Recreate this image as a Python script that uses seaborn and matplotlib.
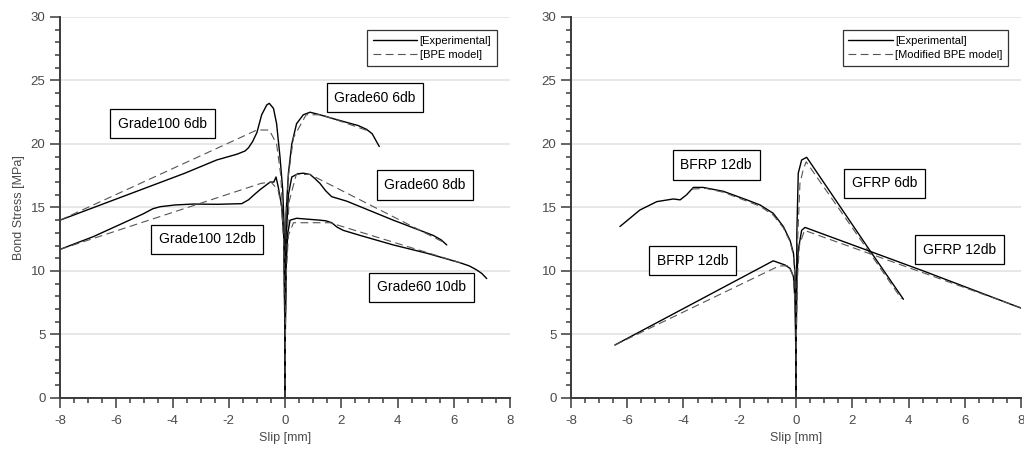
import numpy as np
import pandas as pd
import matplotlib
matplotlib.use("Agg")
import matplotlib.pyplot as plt
from matplotlib.ticker import MultipleLocator
import seaborn as sns

# ---- Steel bars (left panel) ----
g100_6_exp_x = [-8.0, -6.8, -5.6, -4.4, -3.56, -2.43, -1.7, -1.42, -1.3, -1.15, -1.0, -0.83, -0.65, -0.56, -0.41, -0.3, -0.18, -0.083, -0.036, -0.01, 0.0]
g100_6_exp_y = [14.0, 15.0, 16.0, 17.0, 17.7, 18.74, 19.2, 19.45, 19.7, 20.2, 20.9, 22.3, 23.07, 23.2, 22.8, 21.6, 19.0, 16.4, 13.75, 6.0, 0.0]
g100_6_bpe_x = [-8.0, -1.0, -0.56, -0.3, -0.15, -0.05, -0.01, 0.0]
g100_6_bpe_y = [14.0, 21.1, 21.1, 20.0, 17.5, 13.0, 6.0, 0.0]

g100_12_exp_x = [-8.0, -6.82, -5.63, -5.04, -4.7, -4.44, -3.9, -3.26, -2.4, -1.54, -1.3, -1.1, -0.89, -0.53, -0.4, -0.32, -0.24, -0.12, -0.036, -0.01, 0.0]
g100_12_exp_y = [11.7, 12.7, 13.9, 14.5, 14.9, 15.06, 15.2, 15.27, 15.25, 15.3, 15.6, 16.0, 16.4, 17.0, 17.0, 17.4, 16.6, 15.1, 12.4, 6.0, 0.0]
g100_12_bpe_x = [-8.0, -0.85, -0.5, -0.25, -0.12, -0.04, -0.01, 0.0]
g100_12_bpe_y = [11.7, 16.9, 17.0, 16.4, 15.0, 12.0, 6.0, 0.0]

g60_6_exp_x = [0.0, 0.01, 0.036, 0.12, 0.24, 0.41, 0.65, 0.89, 1.24, 1.7, 2.19, 2.6, 2.9, 3.1, 3.2, 3.35]
g60_6_exp_y = [0.0, 7.0, 14.5, 17.7, 20.0, 21.6, 22.3, 22.5, 22.3, 22.0, 21.7, 21.45, 21.15, 20.8, 20.4, 19.8]
g60_6_bpe_x = [0.0, 0.01, 0.04, 0.12, 0.3, 0.75, 1.3, 3.0]
g60_6_bpe_y = [0.0, 7.0, 14.0, 17.5, 20.5, 22.3, 22.3, 21.0]

g60_8_exp_x = [0.0, 0.01, 0.04, 0.12, 0.24, 0.45, 0.65, 0.89, 1.05, 1.24, 1.45, 1.66, 2.19, 3.85, 5.27, 5.55, 5.75]
g60_8_exp_y = [0.0, 6.0, 12.5, 16.0, 17.4, 17.65, 17.7, 17.6, 17.3, 16.9, 16.3, 15.85, 15.5, 14.0, 12.8, 12.45, 12.05]
g60_8_bpe_x = [0.0, 0.01, 0.05, 0.15, 0.4, 0.89, 5.6]
g60_8_bpe_y = [0.0, 6.0, 12.0, 15.5, 17.6, 17.6, 12.3]

g60_10_exp_x = [0.0, 0.01, 0.04, 0.1, 0.18, 0.41, 1.24, 1.45, 1.66, 1.85, 2.07, 2.67, 3.85, 5.04, 6.22, 6.55, 6.8, 7.0, 7.17]
g60_10_exp_y = [0.0, 5.0, 10.5, 13.0, 14.0, 14.15, 14.0, 13.95, 13.8, 13.45, 13.2, 12.8, 12.05, 11.4, 10.65, 10.4, 10.1, 9.8, 9.4]
g60_10_bpe_x = [0.0, 0.01, 0.05, 0.12, 0.3, 1.6, 6.3]
g60_10_bpe_y = [0.0, 5.0, 10.0, 12.8, 13.8, 13.8, 10.6]

# ---- FRP bars (right panel) ----
bfrp_a_exp_x = [-6.26, -5.55, -4.95, -4.36, -4.12, -3.89, -3.65, -3.3, -2.58, -1.75, -1.28, -0.81, -0.45, -0.21, -0.09, -0.035, -0.01, 0.0]
bfrp_a_exp_y = [13.5, 14.8, 15.46, 15.67, 15.6, 16.0, 16.58, 16.58, 16.27, 15.6, 15.2, 14.54, 13.5, 12.4, 11.4, 9.8, 5.0, 0.0]
bfrp_a_bpe_x = [-3.7, -3.2, -2.58, -1.75, -1.28, -0.81, -0.45, -0.21, -0.09, -0.035, -0.01, 0.0]
bfrp_a_bpe_y = [16.45, 16.5, 16.2, 15.5, 15.1, 14.4, 13.4, 12.3, 11.2, 9.6, 5.0, 0.0]

bfrp_b_exp_x = [-6.44, -0.81, -0.39, -0.21, -0.09, -0.03, -0.01, 0.0]
bfrp_b_exp_y = [4.17, 10.8, 10.47, 10.2, 9.55, 7.5, 4.0, 0.0]
bfrp_b_bpe_x = [-6.44, -0.6, -0.25, -0.1, -0.03, -0.01, 0.0]
bfrp_b_bpe_y = [4.17, 10.4, 10.4, 9.6, 7.5, 4.0, 0.0]

gfrp_6_exp_x = [0.0, 0.01, 0.03, 0.08, 0.2, 0.38, 2.63, 3.82]
gfrp_6_exp_y = [0.0, 6.0, 13.0, 17.7, 18.74, 18.95, 11.6, 7.77]
gfrp_6_bpe_x = [0.0, 0.01, 0.05, 0.14, 0.26, 0.36, 2.6, 3.75]
gfrp_6_bpe_y = [0.0, 5.0, 12.0, 16.9, 18.0, 18.6, 11.5, 7.8]

gfrp_12_exp_x = [0.0, 0.01, 0.03, 0.08, 0.2, 0.32, 4.53, 8.02]
gfrp_12_exp_y = [0.0, 5.0, 9.5, 11.65, 13.2, 13.43, 10.0, 7.06]
gfrp_12_bpe_x = [0.0, 0.01, 0.04, 0.12, 0.3, 8.0]
gfrp_12_bpe_y = [0.0, 4.5, 9.0, 12.0, 13.2, 7.1]

left_curves = [
    (g100_6_exp_x, g100_6_exp_y, g100_6_bpe_x, g100_6_bpe_y),
    (g100_12_exp_x, g100_12_exp_y, g100_12_bpe_x, g100_12_bpe_y),
    (g60_6_exp_x, g60_6_exp_y, g60_6_bpe_x, g60_6_bpe_y),
    (g60_8_exp_x, g60_8_exp_y, g60_8_bpe_x, g60_8_bpe_y),
    (g60_10_exp_x, g60_10_exp_y, g60_10_bpe_x, g60_10_bpe_y),
]
right_curves = [
    (bfrp_a_exp_x, bfrp_a_exp_y, bfrp_a_bpe_x, bfrp_a_bpe_y),
    (bfrp_b_exp_x, bfrp_b_exp_y, bfrp_b_bpe_x, bfrp_b_bpe_y),
    (gfrp_6_exp_x, gfrp_6_exp_y, gfrp_6_bpe_x, gfrp_6_bpe_y),
    (gfrp_12_exp_x, gfrp_12_exp_y, gfrp_12_bpe_x, gfrp_12_bpe_y),
]

left_labels = ["Grade100 6db", "Grade100 12db", "Grade60 6db", "Grade60 8db", "Grade60 10db"]
left_label_pos = [(-4.36, 21.6), (-2.77, 12.5), (3.2, 23.65), (4.98, 16.77), (4.85, 8.7)]
right_labels = ["BFRP 12db", "BFRP 12db", "GFRP 6db", "GFRP 12db"]
right_label_pos = [(-2.84, 18.35), (-3.67, 10.8), (3.15, 16.9), (5.81, 11.68)]

legend_left = ["[Experimental]", "[BPE model]"]
legend_right = ["[Experimental]", "[Modified BPE model]"]

sns.set_theme(style="ticks")
plt.rcParams["font.family"] = ["Liberation Sans", "DejaVu Sans"]
plt.rcParams["axes.unicode_minus"] = False

fig = plt.figure(figsize=(10.24, 4.55), dpi=100)
ax1 = fig.add_axes([0.0586, 0.1253, 0.4395, 0.8374])
ax2 = fig.add_axes([0.5576, 0.1253, 0.4395, 0.8374])

text_gray = "#4a4a4a"
spine_col = "#3a3a3a"


def draw_panel(ax, curves, labels, label_pos, legend_labels):
    for i, (ex, ey, bx, by) in enumerate(curves):
        sns.lineplot(x=ex, y=ey, sort=False, estimator=None, color="black",
                     linewidth=1.0, ax=ax,
                     label=legend_labels[0] if i == 0 else None)
        sns.lineplot(x=bx, y=by, sort=False, estimator=None, color="#555555",
                     linewidth=0.8, ax=ax,
                     label=legend_labels[1] if i == 0 else None)
        ax.lines[-1].set_linestyle((0, (7, 4)))
    for txt, (tx, ty) in zip(labels, label_pos):
        ax.text(tx, ty, txt, ha="center", va="center", fontsize=10, color="black",
                bbox=dict(boxstyle="square,pad=0.55", fc="white", ec="black", lw=0.9))
    ax.set_xlim(-8, 8)
    ax.set_ylim(0, 30)
    ax.xaxis.set_major_locator(MultipleLocator(2))
    ax.xaxis.set_minor_locator(MultipleLocator(0.5))
    ax.yaxis.set_major_locator(MultipleLocator(5))
    ax.yaxis.set_minor_locator(MultipleLocator(1))
    ax.yaxis.grid(True, color="#e3e3e3", linewidth=1.2)
    ax.set_axisbelow(True)
    sns.despine(ax=ax)
    for s in ("left", "bottom"):
        ax.spines[s].set_color(spine_col)
        ax.spines[s].set_linewidth(1.4)
    ax.tick_params(which="major", direction="out", length=7, width=1.1,
                   color=spine_col, labelcolor=text_gray, labelsize=9.5)
    ax.tick_params(axis="x", which="major", pad=5)
    ax.tick_params(which="minor", direction="out", length=3.5, width=1.1, color=spine_col)
    ax.set_xlabel("Slip [mm]", fontsize=9, color=text_gray, labelpad=4)
    leg = ax.legend(loc="upper right", fontsize=8, handlelength=4.0,
                    frameon=True, fancybox=False, borderaxespad=1.2,
                    labelspacing=0.4, handletextpad=0.2, borderpad=0.5)
    leg.get_frame().set_edgecolor("black")
    leg.get_frame().set_linewidth(0.9)
    for t in leg.get_texts():
        t.set_color("black")


draw_panel(ax1, left_curves, left_labels, left_label_pos, legend_left)
draw_panel(ax2, right_curves, right_labels, right_label_pos, legend_right)
ax1.set_ylabel("Bond Stress [MPa]", fontsize=9, color=text_gray, labelpad=4)
ax2.set_ylabel("")

fig.savefig("out.png", dpi=100)
